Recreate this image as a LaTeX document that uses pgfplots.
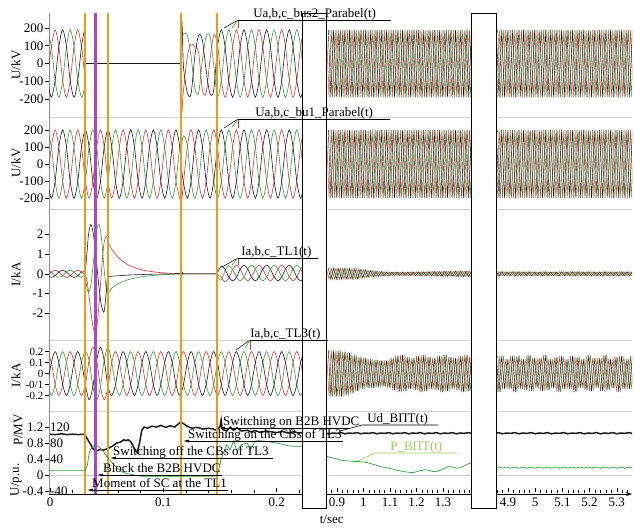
\documentclass[border=0pt]{standalone}
\usepackage{fontspec}
\setmainfont{Liberation Serif}
\usepackage{pgfplots}
\usepackage{pgfplotstable}
\pgfplotsset{compat=1.18}
\usetikzlibrary{arrows.meta}

\definecolor{phR}{RGB}{228,48,48}
\definecolor{phG}{RGB}{46,160,56}
\definecolor{phK}{RGB}{28,28,28}
\definecolor{evO}{RGB}{232,158,20}
\definecolor{evP}{RGB}{178,66,200}
\definecolor{sepG}{RGB}{208,208,208}
\definecolor{zeroG}{RGB}{192,202,216}
\definecolor{pLab}{RGB}{150,204,88}

% broken time axis: 0..0.25 s at full scale, 0.85..1.45 s and 4.8..5.4 s compressed
\pgfplotsset{
  x coord trafo/.code={\pgfmathparse{(#1<0.5)?(#1):((#1<3)?(0.2533+0.2339*(#1-0.9)):(0.4042+0.2401*(#1-4.9)))}},
  panel/.style={
    scale only axis, width=583pt, anchor=north west,
    xmin=-0.0009, xmax=5.3559, enlargelimits=false,
    axis y line=left,
    y axis line style={-, black!45, line width=0.6pt},
    tick align=outside, major tick length=4pt,
    tick style={black, line width=0.6pt},
    yticklabel style={inner xsep=1.5pt},
    ylabel style={at={(axis description cs:-0.0566,0.5)}, anchor=center},
    no markers, clip=true,
  },
  wave/.style={line width=0.6pt, smooth},
  dens/.style={line width=0.45pt},
}

\newcommand\eventlines[2]{%
  \addplot[evO, line width=2pt] coordinates {(0.031,#1) (0.031,#2)};
  \addplot[evP, line width=2.4pt] coordinates {(0.040,#1) (0.040,#2)};
  \addplot[evO, line width=2pt] coordinates {(0.051,#1) (0.051,#2)};
  \addplot[evO, line width=2pt] coordinates {(0.116,#1) (0.116,#2)};
  \addplot[evO, line width=2pt] coordinates {(0.147,#1) (0.147,#2)};
}

% bus 2 voltages, kV (first 0.23 s)
\pgfplotstableread{
t r b g
-0.0022 -95 -95 190
0.0012 95 -190 95
0.0045 190 -95 -95
0.0078 95 95 -190
0.0112 -95 190 -95
0.0145 -190 95 95
0.0178 -95 -95 190
0.0212 95 -190 95
0.0245 190 -95 -95
0.0278 95 95 -190
0.0300 -30 177 -148
0.0310 -86 190 -104
0.0312 0 0 0
0.0316 0 0 0
0.0340 0 0 0
0.0700 0 0 0
0.1120 0 0 0
0.1146 0 0 0
0.1150 0 0 0
0.1160 -290 250 40
0.1170 -210 160 150
0.1178 -150 -20 165
0.1212 40 -165 160
0.1245 110 -170 40
0.1278 95 40 -140
0.1312 60 160 -165
0.1345 -150 130 20
0.1378 -165 -40 150
0.1412 20 -170 155
0.1445 160 -150 -10
0.1478 110 90 -185
0.1512 -95 190 -95
0.1545 -190 95 95
0.1578 -95 -95 190
0.1612 95 -190 95
0.1645 190 -95 -95
0.1678 95 95 -190
0.1712 -95 190 -95
0.1745 -190 95 95
0.1778 -95 -95 190
0.1812 95 -190 95
0.1845 190 -95 -95
0.1878 95 95 -190
0.1912 -95 190 -95
0.1945 -190 95 95
0.1978 -95 -95 190
0.2012 95 -190 95
0.2045 190 -95 -95
0.2078 95 95 -190
0.2112 -95 190 -95
0.2145 -190 95 95
0.2178 -95 -95 190
0.2212 95 -190 95
0.2245 190 -95 -95
0.2278 95 95 -190
}\tabBusTwo

% bus 1 voltages, kV
\pgfplotstableread{
t r b g
-0.0022 -100 -100 200
0.0012 100 -200 100
0.0045 200 -100 -100
0.0078 100 100 -200
0.0112 -100 200 -100
0.0145 -200 100 100
0.0178 -100 -100 200
0.0212 100 -200 100
0.0245 200 -100 -100
0.0278 100 100 -200
0.0312 -100 200 -100
0.0345 -200 100 100
0.0378 -100 -100 200
0.0412 100 -200 100
0.0445 200 -100 -100
0.0478 100 100 -200
0.0512 -100 200 -100
0.0545 -200 100 100
0.0578 -100 -100 200
0.0612 100 -200 100
0.0645 200 -100 -100
0.0678 100 100 -200
0.0712 -100 200 -100
0.0745 -200 100 100
0.0778 -100 -100 200
0.0812 100 -200 100
0.0845 200 -100 -100
0.0878 100 100 -200
0.0912 -100 200 -100
0.0945 -200 100 100
0.0978 -100 -100 200
0.1012 100 -200 100
0.1045 200 -100 -100
0.1078 100 100 -200
0.1112 -100 200 -100
0.1145 -200 100 100
0.1160 -225 -20 110
0.1178 -110 -110 165
0.1212 100 -200 110
0.1245 200 -100 -100
0.1278 100 100 -200
0.1312 -100 200 -100
0.1345 -200 100 100
0.1378 -100 -100 200
0.1412 100 -200 100
0.1445 200 -100 -100
0.1478 100 100 -200
0.1512 -100 200 -100
0.1545 -200 100 100
0.1578 -100 -100 200
0.1612 100 -200 100
0.1645 200 -100 -100
0.1678 100 100 -200
0.1712 -100 200 -100
0.1745 -200 100 100
0.1778 -100 -100 200
0.1812 100 -200 100
0.1845 200 -100 -100
0.1878 100 100 -200
0.1912 -100 200 -100
0.1945 -200 100 100
0.1978 -100 -100 200
0.2012 100 -200 100
0.2045 200 -100 -100
0.2078 100 100 -200
0.2112 -100 200 -100
0.2145 -200 100 100
0.2178 -100 -100 200
0.2212 100 -200 100
0.2245 200 -100 -100
0.2278 100 100 -200
}\tabBusOne

% TL1 currents, kA
\pgfplotstableread{
t r b g
-0.0022 -0.09 -0.09 0.18
0.0012 0.09 -0.18 0.09
0.0045 0.18 -0.09 -0.09
0.0078 0.09 0.09 -0.18
0.0112 -0.09 0.18 -0.09
0.0145 -0.18 0.09 0.09
0.0178 -0.09 -0.09 0.18
0.0212 0.09 -0.18 0.09
0.0245 0.18 -0.09 -0.09
0.0278 0.09 0.09 -0.18
0.0310 -0.08 0.18 -0.10
0.0325 -0.3 1.0 -0.7
0.0340 -0.9 2.0 -0.95
0.0360 -1.9 2.5 -0.6
0.0380 -2.7 2.1 0.4
0.0400 -3.0 1.2 1.6
0.0415 -2.6 0.3 2.3
0.0433 -1.5 -0.7 2.5
0.0450 -0.2 -1.5 2.0
0.0465 0.9 -1.85 1.1
0.0478 1.6 -1.9 0.2
0.0495 1.9 -1.0 -0.7
0.0505 1.85 -0.3 -1.0
0.0515 1.6 -0.15 -0.95
0.0550 1.2 -0.12 -0.7
0.0600 0.85 -0.1 -0.5
0.0650 0.6 -0.08 -0.38
0.0700 0.42 -0.06 -0.28
0.0800 0.22 -0.04 -0.16
0.0900 0.11 -0.02 -0.09
0.1000 0.05 -0.01 -0.05
0.1100 0.02 0 -0.02
0.1150 0.01 0 -0.01
0.1160 0.03 -0.12 0.06
0.1168 0 0.05 0
0.1176 0 0 0
0.1300 0 0 0
0.1455 0 0 0
0.1470 0 0 0
0.1490 -0.1 0.2 -0.25
0.1512 -0.18 0.38 -0.32
0.1545 -0.4 0.22 0.16
0.1578 -0.2 -0.16 0.42
0.1612 0.22 -0.36 0.2
0.1645 0.44 -0.18 -0.16
0.1678 0.24 0.24 -0.36
0.1712 -0.16 0.44 -0.16
0.1745 -0.36 0.24 0.24
0.1778 -0.16 -0.16 0.44
0.1812 0.24 -0.36 0.24
0.1845 0.44 -0.16 -0.16
0.1878 0.24 0.24 -0.36
0.1912 -0.16 0.44 -0.16
0.1945 -0.36 0.24 0.24
0.1978 -0.16 -0.16 0.44
0.2012 0.24 -0.36 0.24
0.2045 0.44 -0.16 -0.16
0.2078 0.24 0.24 -0.36
0.2112 -0.16 0.44 -0.16
0.2145 -0.36 0.24 0.24
0.2178 -0.16 -0.16 0.44
0.2212 0.24 -0.36 0.24
0.2245 0.44 -0.16 -0.16
0.2278 0.24 0.24 -0.36
}\tabTLone

% TL3 currents, kA
\pgfplotstableread{
t r b g
-0.0022 0.2 -0.1 -0.1
0.0012 0.1 0.1 -0.2
0.0045 -0.1 0.2 -0.1
0.0078 -0.2 0.1 0.1
0.0112 -0.1 -0.1 0.2
0.0145 0.1 -0.2 0.1
0.0178 0.2 -0.1 -0.1
0.0212 0.1 0.1 -0.2
0.0245 -0.1 0.2 -0.1
0.0278 -0.2 0.1 0.1
0.0312 -0.1 -0.1 0.2
0.0345 0.12 -0.24 0.12
0.0378 0.24 -0.12 -0.12
0.0412 0.12 0.12 -0.24
0.0445 -0.12 0.24 -0.12
0.0478 -0.24 0.12 0.12
0.0512 -0.12 -0.12 0.24
0.0545 0.1 -0.2 0.1
0.0578 0.2 -0.1 -0.1
0.0612 0.1 0.1 -0.2
0.0645 -0.1 0.2 -0.1
0.0678 -0.2 0.1 0.1
0.0712 -0.1 -0.1 0.2
0.0745 0.1 -0.2 0.1
0.0778 0.2 -0.1 -0.1
0.0812 0.1 0.1 -0.2
0.0845 -0.1 0.2 -0.1
0.0878 -0.2 0.1 0.1
0.0912 -0.1 -0.1 0.2
0.0945 0.1 -0.2 0.1
0.0978 0.2 -0.1 -0.1
0.1012 0.1 0.1 -0.2
0.1045 -0.1 0.2 -0.1
0.1078 -0.2 0.1 0.1
0.1112 -0.1 -0.1 0.2
0.1145 0.1 -0.2 0.1
0.1178 0.2 -0.1 -0.1
0.1212 0.1 0.1 -0.2
0.1245 -0.1 0.2 -0.1
0.1278 -0.2 0.1 0.1
0.1312 -0.1 -0.1 0.2
0.1345 0.1 -0.2 0.1
0.1378 0.2 -0.1 -0.1
0.1412 0.1 0.1 -0.2
0.1445 -0.1 0.2 -0.1
0.1478 -0.2 0.1 0.1
0.1512 -0.1 -0.1 0.2
0.1545 0.1 -0.2 0.1
0.1578 0.2 -0.1 -0.1
0.1612 0.1 0.1 -0.2
0.1645 -0.1 0.2 -0.1
0.1678 -0.2 0.1 0.1
0.1712 -0.1 -0.1 0.2
0.1745 0.1 -0.2 0.1
0.1778 0.2 -0.1 -0.1
0.1812 0.1 0.1 -0.2
0.1845 -0.1 0.2 -0.1
0.1878 -0.2 0.1 0.1
0.1912 -0.1 -0.1 0.2
0.1945 0.1 -0.2 0.1
0.1978 0.2 -0.1 -0.1
0.2012 0.1 0.1 -0.2
0.2045 -0.1 0.2 -0.1
0.2078 -0.2 0.1 0.1
0.2112 -0.1 -0.1 0.2
0.2145 0.1 -0.2 0.1
0.2178 0.2 -0.1 -0.1
0.2212 0.1 0.1 -0.2
0.2245 -0.1 0.2 -0.1
0.2278 -0.2 0.1 0.1
}\tabTLthree

% later windows: peak values of each phase (a at tr, b at tb, c at tg)
% v1 = bus 2 (kV), v2 = bus 1 (kV), i1 = TL1 (kA), i3 = TL3 (kA)
\pgfplotstableread{
tr tb tg v1 v2 i1 i3
0.860 0.867 0.873 190 200 0.28 0.21
0.870 0.877 0.883 -190 -200 -0.28 -0.21
0.880 0.887 0.893 190 200 0.28 0.21
0.890 0.897 0.903 -190 -200 -0.28 -0.21
0.900 0.907 0.913 190 200 0.28 0.21
0.910 0.917 0.923 -190 -200 -0.28 -0.21
0.920 0.927 0.933 190 200 0.28 0.20
0.930 0.937 0.943 -190 -200 -0.27 -0.20
0.940 0.947 0.953 190 200 0.27 0.19
0.950 0.957 0.963 -190 -200 -0.27 -0.18
0.960 0.967 0.973 190 200 0.26 0.17
0.970 0.977 0.983 -190 -200 -0.25 -0.16
0.980 0.987 0.993 190 200 0.23 0.15
0.990 0.997 1.003 -190 -200 -0.21 -0.14
1.000 1.007 1.013 190 200 0.20 0.14
1.010 1.017 1.023 -190 -200 -0.18 -0.13
1.020 1.027 1.033 190 200 0.17 0.13
1.030 1.037 1.043 -190 -200 -0.15 -0.13
1.040 1.047 1.053 190 200 0.14 0.125
1.050 1.057 1.063 -190 -200 -0.13 -0.125
1.060 1.067 1.073 190 200 0.12 0.12
1.070 1.077 1.083 -190 -200 -0.11 -0.12
1.080 1.087 1.093 190 200 0.10 0.12
1.090 1.097 1.103 -190 -200 -0.10 -0.13
1.100 1.107 1.113 190 200 0.09 0.14
1.110 1.117 1.123 -190 -200 -0.09 -0.15
1.120 1.127 1.133 190 200 0.09 0.16
1.130 1.137 1.143 -190 -200 -0.09 -0.17
1.140 1.147 1.153 190 200 0.09 0.17
1.150 1.157 1.163 -190 -200 -0.09 -0.16
1.160 1.167 1.173 190 200 0.09 0.15
1.170 1.177 1.183 -190 -200 -0.09 -0.14
1.180 1.187 1.193 190 200 0.10 0.14
1.190 1.197 1.203 -190 -200 -0.10 -0.15
1.200 1.207 1.213 190 200 0.10 0.16
1.210 1.217 1.223 -190 -200 -0.10 -0.17
1.220 1.227 1.233 190 200 0.10 0.17
1.230 1.237 1.243 -190 -200 -0.11 -0.16
1.240 1.247 1.253 190 200 0.11 0.15
1.250 1.257 1.263 -190 -200 -0.11 -0.14
1.260 1.267 1.273 190 200 0.12 0.14
1.270 1.277 1.283 -190 -200 -0.12 -0.15
1.280 1.287 1.293 190 200 0.12 0.16
1.290 1.297 1.303 -190 -200 -0.13 -0.17
1.300 1.307 1.313 190 200 0.13 0.17
1.310 1.317 1.323 -190 -200 -0.13 -0.16
1.320 1.327 1.333 190 200 0.13 0.15
1.330 1.337 1.343 -190 -200 -0.13 -0.14
1.340 1.347 1.353 190 200 0.14 0.14
1.350 1.357 1.363 -190 -200 -0.14 -0.15
1.360 1.367 1.373 190 200 0.14 0.16
1.370 1.377 1.383 -190 -200 -0.14 -0.17
1.380 1.387 1.393 190 200 0.14 0.17
1.390 1.397 1.403 -190 -200 -0.14 -0.16
1.400 1.407 1.413 190 200 0.14 0.15
1.410 1.417 1.423 -190 -200 -0.14 -0.15
4.850 4.857 4.863 190 200 0.11 0.16
4.860 4.867 4.873 -190 -200 -0.11 -0.17
4.870 4.877 4.883 190 200 0.11 0.16
4.880 4.887 4.893 -190 -200 -0.10 -0.14
4.890 4.897 4.903 190 200 0.10 0.13
4.900 4.907 4.913 -190 -200 -0.10 -0.14
4.910 4.917 4.923 190 200 0.11 0.16
4.920 4.927 4.933 -190 -200 -0.11 -0.17
4.930 4.937 4.943 190 200 0.11 0.16
4.940 4.947 4.953 -190 -200 -0.10 -0.14
4.950 4.957 4.963 190 200 0.10 0.13
4.960 4.967 4.973 -190 -200 -0.10 -0.15
4.970 4.977 4.983 190 200 0.11 0.17
4.980 4.987 4.993 -190 -200 -0.11 -0.16
4.990 4.997 5.003 190 200 0.10 0.14
5.000 5.007 5.013 -190 -200 -0.10 -0.13
5.010 5.017 5.023 190 200 0.10 0.14
5.020 5.027 5.033 -190 -200 -0.11 -0.16
5.030 5.037 5.043 190 200 0.11 0.17
5.040 5.047 5.053 -190 -200 -0.11 -0.15
5.050 5.057 5.063 190 200 0.10 0.13
5.060 5.067 5.073 -190 -200 -0.10 -0.13
5.070 5.077 5.083 190 200 0.10 0.15
5.080 5.087 5.093 -190 -200 -0.11 -0.17
5.090 5.097 5.103 190 200 0.11 0.16
5.100 5.107 5.113 -190 -200 -0.10 -0.14
5.110 5.117 5.123 190 200 0.10 0.13
5.120 5.127 5.133 -190 -200 -0.10 -0.14
5.130 5.137 5.143 190 200 0.11 0.16
5.140 5.147 5.153 -190 -200 -0.11 -0.17
5.150 5.157 5.163 190 200 0.11 0.15
5.160 5.167 5.173 -190 -200 -0.10 -0.13
5.170 5.177 5.183 190 200 0.10 0.13
5.180 5.187 5.193 -190 -200 -0.10 -0.15
5.190 5.197 5.203 190 200 0.11 0.17
5.200 5.207 5.213 -190 -200 -0.11 -0.16
5.210 5.217 5.223 190 200 0.10 0.14
5.220 5.227 5.233 -190 -200 -0.10 -0.13
5.230 5.237 5.243 190 200 0.10 0.14
5.240 5.247 5.253 -190 -200 -0.11 -0.16
5.250 5.257 5.263 190 200 0.11 0.17
5.260 5.267 5.273 -190 -200 -0.11 -0.15
5.270 5.277 5.283 190 200 0.10 0.13
5.280 5.287 5.293 -190 -200 -0.10 -0.13
5.290 5.297 5.303 190 200 0.10 0.15
5.300 5.307 5.313 -190 -200 -0.11 -0.17
5.310 5.317 5.323 190 200 0.11 0.16
5.320 5.327 5.333 -190 -200 -0.10 -0.14
5.330 5.337 5.343 190 200 0.10 0.13
5.340 5.347 5.353 -190 -200 -0.10 -0.14
5.350 5.357 5.363 190 200 0.11 0.16
5.360 5.367 5.373 -190 -200 -0.11 -0.17
5.370 5.377 5.383 190 200 0.11 0.15
}\tabLate

% DC voltage (p.u.) and power (MW) of the back-to-back link
\pgfplotstableread{
t ud p
0.000 1.02 11
0.005 1.01 11
0.010 1.03 11
0.015 1.01 11
0.020 1.02 11
0.025 1.01 11
0.030 1.02 11
0.031 1.00 11
0.033 0.90 26
0.035 0.80 60
0.038 0.66 72
0.040 0.60 75
0.042 0.61 73
0.044 0.64 68
0.047 0.62 60
0.050 0.65 46
0.051 0.66 43
0.055 0.72 30
0.059 0.80 18
0.062 0.82 12
0.065 0.88 6
0.067 0.86 4
0.069 0.88 3
0.071 0.84 2
0.073 0.75 1
0.075 0.62 -1
0.077 0.56 -2
0.079 0.80 -2
0.081 1.12 -3
0.083 1.20 -3
0.086 1.17 -3
0.090 1.22 -3
0.094 1.20 -3
0.098 1.24 -3
0.102 1.19 -3
0.106 1.23 -3
0.110 1.20 -3
0.113 1.27 -3
0.115 1.32 -3
0.118 1.28 -3
0.121 1.22 -3
0.125 1.17 -3
0.130 1.19 -3
0.135 1.15 -3
0.140 1.17 -3
0.144 1.15 -3
0.147 1.12 -2
0.148 1.16 5
0.150 1.20 26
0.151 1.38 40
0.152 1.15 48
0.153 1.13 55
0.156 1.10 76
0.159 1.20 63
0.162 1.12 85
0.165 1.18 60
0.169 1.10 76
0.174 1.12 80
0.177 1.08 63
0.181 1.11 85
0.185 1.07 86
0.191 1.10 84
0.200 1.06 80
0.205 1.09 77
0.210 1.05 73
0.215 1.08 72
0.220 1.05 72
0.226 1.06 71
}\tabDCearly

\pgfplotstableread{
t ud p
0.855 1.05 48
0.870 1.03 45
0.885 1.05 42
0.900 1.04 40
0.915 1.06 37
0.930 1.03 36
0.945 1.05 35
0.960 1.04 34
0.975 1.06 34
0.990 1.03 33
1.005 1.05 32
1.020 1.04 30
1.035 1.06 27
1.050 1.03 24
1.065 1.05 21
1.080 1.04 19
1.095 1.06 17
1.110 1.03 15
1.125 1.05 12
1.140 1.04 10
1.155 1.06 8
1.170 1.03 7
1.185 1.05 6
1.200 1.04 8
1.215 1.06 11
1.230 1.03 13
1.245 1.05 12
1.260 1.04 9
1.275 1.06 8
1.290 1.03 12
1.305 1.05 17
1.320 1.04 21
1.335 1.06 20
1.350 1.03 17
1.365 1.05 18
1.380 1.04 23
1.395 1.06 28
1.410 1.04 31
4.850 1.04 18
4.865 1.06 20
4.880 1.03 17
4.895 1.05 20
4.910 1.04 17
4.925 1.06 20
4.940 1.03 17
4.955 1.05 20
4.970 1.04 17
4.985 1.06 20
5.000 1.03 17
5.015 1.05 20
5.030 1.04 17
5.045 1.06 20
5.060 1.03 17
5.075 1.05 20
5.090 1.04 17
5.105 1.06 20
5.120 1.03 17
5.135 1.05 20
5.150 1.04 17
5.165 1.06 20
5.180 1.03 17
5.195 1.05 20
5.210 1.04 17
5.225 1.06 20
5.240 1.03 17
5.255 1.05 20
5.270 1.04 17
5.285 1.06 20
5.300 1.03 17
5.315 1.05 20
5.330 1.04 17
5.345 1.06 20
5.360 1.03 17
5.375 1.05 20
}\tabDClate

\begin{document}
\fontsize{13pt}{15pt}\selectfont
\begin{tikzpicture}
\path[use as bounding box] (0pt,0pt) rectangle (634pt,-527pt);

% panel separators and zero line of the lowest panel
\draw[sepG, line width=0.7pt] (49pt,-117pt) -- (632pt,-117pt);
\draw[sepG, line width=0.7pt] (49pt,-209pt) -- (632pt,-209pt);
\draw[sepG, line width=0.7pt] (49pt,-340pt) -- (632pt,-340pt);
\draw[sepG, line width=0.7pt] (49pt,-411pt) -- (632pt,-411pt);
\draw[zeroG, line width=0.7pt] (49pt,-475pt) -- (632pt,-475pt);

% bus 2 voltage
\begin{axis}[panel, axis x line=none, at={(49pt,-13pt)}, height=104pt, ymin=-301, ymax=284.5,
  ytick={-200,-100,0,100,200}, yticklabels={-200,-100,0,100,200}, ylabel={U/kV}]
  \addplot[phR, wave] table[x=t,y=r] {\tabBusTwo};
  \addplot[phG, wave] table[x=t,y=g] {\tabBusTwo};
  \addplot[phK, wave] table[x=t,y=b] {\tabBusTwo};
  \addplot[phR, dens] table[x=tr,y=v1] {\tabLate};
  \addplot[phG, dens] table[x=tg,y=v1] {\tabLate};
  \addplot[phK, dens] table[x=tb,y=v1] {\tabLate};
  \eventlines{-301}{284.5}
\end{axis}

% bus 1 voltage
\begin{axis}[panel, axis x line=none, at={(49pt,-117pt)}, height=92pt, ymin=-263, ymax=275,
  ytick={-200,-100,0,100,200}, yticklabels={-200,-100,0,100,200}, ylabel={U/kV}]
  \addplot[phR, wave] table[x=t,y=r] {\tabBusOne};
  \addplot[phG, wave] table[x=t,y=g] {\tabBusOne};
  \addplot[phK, wave] table[x=t,y=b] {\tabBusOne};
  \addplot[phR, dens] table[x=tr,y=v2] {\tabLate};
  \addplot[phG, dens] table[x=tg,y=v2] {\tabLate};
  \addplot[phK, dens] table[x=tb,y=v2] {\tabLate};
  \eventlines{-263}{275}
\end{axis}

% TL1 current
\begin{axis}[panel, axis x line=none, at={(49pt,-209pt)}, height=131pt, ymin=-3.35, ymax=3.28,
  ytick={-2,-1,0,1,2}, yticklabels={-2,-1,0,1,2}, ylabel={I/kA}]
  \addplot[phR, wave] table[x=t,y=r] {\tabTLone};
  \addplot[phG, wave] table[x=t,y=g] {\tabTLone};
  \addplot[phK, wave] table[x=t,y=b] {\tabTLone};
  \addplot[phR, dens] table[x=tr,y=i1] {\tabLate};
  \addplot[phG, dens] table[x=tg,y=i1] {\tabLate};
  \addplot[phK, dens] table[x=tb,y=i1] {\tabLate};
  \eventlines{-3.35}{3.28}
\end{axis}

% TL3 current
\begin{axis}[panel, axis x line=none, at={(49pt,-340pt)}, height=71pt, ymin=-0.341, ymax=0.305,
  ytick={-0.2,-0.1,0,0.1,0.2}, yticklabels={-0.2,-0/1,0,0.1,0.2},
  yticklabel style={font=\fontsize{11pt}{11pt}\selectfont, inner ysep=0pt}, ylabel={I/kA}]
  \addplot[phR, wave] table[x=t,y=r] {\tabTLthree};
  \addplot[phG, wave] table[x=t,y=g] {\tabTLthree};
  \addplot[phK, wave] table[x=t,y=b] {\tabTLthree};
  \addplot[phR, dens] table[x=tr,y=i3] {\tabLate};
  \addplot[phG, dens] table[x=tg,y=i3] {\tabLate};
  \addplot[phK, dens] table[x=tb,y=i3] {\tabLate};
  \eventlines{-0.341}{0.305}
\end{axis}

% DC voltage, p.u.
\begin{axis}[panel, at={(49pt,-411pt)}, height=83pt, ymin=-0.475, ymax=1.6,
  axis x line=bottom,
  x axis line style={black, line width=0.7pt, -{Stealth[length=6pt,width=4pt]}},
  xtick={0,0.1,0.2,0.9,1,1.1,1.2,1.3,4.9,5,5.1,5.2,5.3},
  xticklabels={0,0.1,0.2,0.9,1,1.1,1.2,1.3,4.9,5,5.1,5.2,5.3},
  minor xtick={0.02,0.04,0.06,0.08,0.12,0.14,0.16,0.18,0.22,
    0.86,0.88,0.92,0.94,0.96,0.98,1.02,1.04,1.06,1.08,1.12,1.14,1.16,1.18,
    1.22,1.24,1.26,1.28,1.32,1.34,1.36,1.38,1.40,
    4.86,4.88,4.92,4.94,4.96,4.98,5.02,5.04,5.06,5.08,5.12,5.14,5.16,5.18,
    5.22,5.24,5.26,5.28,5.32,5.34},
  minor tick length=2.5pt,
  every major x tick/.append style={yshift=4pt},
  every minor x tick/.append style={yshift=2.5pt},
  xticklabel style={inner ysep=2pt},
  xlabel={t/sec}, xlabel style={at={(axis description cs:0.485,0)}, anchor=center, yshift=-25pt},
  ytick={-0.4,0,0.4,0.8,1.2}, yticklabels={-0.4,0,0.4,0.8,1.2},
  ylabel={U/p.u.}, ylabel style={at={(axis description cs:-0.0566,0.17)}}]
  \addplot[phK, line width=1.5pt] table[x=t,y=ud] {\tabDCearly};
  \addplot[phK, line width=1.5pt] table[x=t,y=ud] {\tabDClate};
  \eventlines{-0.475}{1.6}
\end{axis}

% active power, MW (same frame)
\begin{axis}[panel, axis x line=none, at={(49pt,-411pt)}, height=83pt, ymin=-47.5, ymax=160,
  y axis line style={draw=none}, major tick length=0pt,
  ytick={-40,40,80,120}, yticklabels={-40,40,80,120},
  yticklabel style={anchor=west, inner xsep=1pt},
  ylabel={P/MV}, ylabel style={at={(axis description cs:-0.053,0.77)}}]
  \addplot[phG, line width=0.7pt] table[x=t,y=p] {\tabDCearly};
  \addplot[phG, line width=0.7pt] table[x=t,y=p] {\tabDClate};
\end{axis}

% breaks of the time axis
\draw[black, line width=0.8pt, fill=white] (302pt,-13pt) rectangle (326pt,-508pt);
\draw[black, line width=0.8pt, fill=white] (471pt,-13pt) rectangle (496pt,-508pt);

% curve labels
\begin{scope}[line width=0.6pt]
\draw[phK] (224pt,-28pt) -- (238pt,-20pt);
\draw[phG] (232pt,-28pt) -- (238pt,-20pt);
\draw[phR] (238pt,-28pt) -- (238pt,-20pt);
\draw[black] (238pt,-20pt) -- (391pt,-20pt);
\node[anchor=base west, inner sep=0pt] at (253pt,-17.5pt) {Ua,b,c\_bus2\_Parabel(t)};

\draw[phK] (224pt,-128pt) -- (238pt,-119pt);
\draw[phG] (232pt,-127pt) -- (238pt,-119pt);
\draw[phR] (238pt,-128pt) -- (238pt,-119pt);
\draw[black] (238pt,-119pt) -- (390pt,-119pt);
\node[anchor=base west, inner sep=0pt] at (255pt,-116.5pt) {Ua,b,c\_bu1\_Parabel(t)};

\draw[phK] (222pt,-267pt) -- (238pt,-258pt);
\draw[phG] (232pt,-265pt) -- (238pt,-258pt);
\draw[phR] (238pt,-265pt) -- (238pt,-258pt);
\draw[black] (238pt,-258pt) -- (318pt,-258pt);
\node[anchor=base west, inner sep=0pt] at (241pt,-255.5pt) {Ia,b,c\_TL1(t)};

\draw[phK] (236pt,-350pt) -- (250pt,-340pt);
\draw[phG] (245pt,-348pt) -- (250pt,-340pt);
\draw[phR] (250pt,-350pt) -- (250pt,-340pt);
\draw[black] (250pt,-340pt) -- (328pt,-340pt);
\node[anchor=base west, inner sep=0pt] at (250pt,-337pt) {Ia,b,c\_TL3(t)};

\draw[black] (340pt,-431pt) -- (362pt,-425pt) -- (438pt,-425pt);
\node[anchor=base west, inner sep=0pt] at (367pt,-422.5pt) {Ud\_ВПТ(t)};
\draw[pLab] (358pt,-461pt) -- (375pt,-453pt) -- (457pt,-453pt);
\node[anchor=base west, inner sep=0pt, text=pLab] at (390pt,-450.5pt) {P\_ВПТ(t)};
\end{scope}

% event annotations
\begin{scope}[line width=0.6pt, -{Latex[length=6pt,width=3pt]}]
\draw (350pt,-428pt) -- (219pt,-428pt);
\draw (343pt,-441pt) -- (183pt,-441pt);
\draw (273pt,-458pt) -- (110pt,-458pt);
\draw (222pt,-475pt) -- (97pt,-475pt);
\draw (228pt,-490pt) -- (87pt,-490pt);
\end{scope}
\node[anchor=base west, inner sep=0pt] at (223pt,-425.5pt) {Switching on B2B HVDC};
\node[anchor=base west, inner sep=0pt] at (188pt,-438.5pt) {Switching on the CBs of TL3};
\node[anchor=base west, inner sep=0pt] at (113pt,-455.5pt) {Switching off the CBs of TL3};
\node[anchor=base west, inner sep=0pt] at (103pt,-472.5pt) {Block the B2B HVDC};
\node[anchor=base west, inner sep=0pt] at (92pt,-487.5pt) {Moment of SC at the TL1};
\end{tikzpicture}
\end{document}
